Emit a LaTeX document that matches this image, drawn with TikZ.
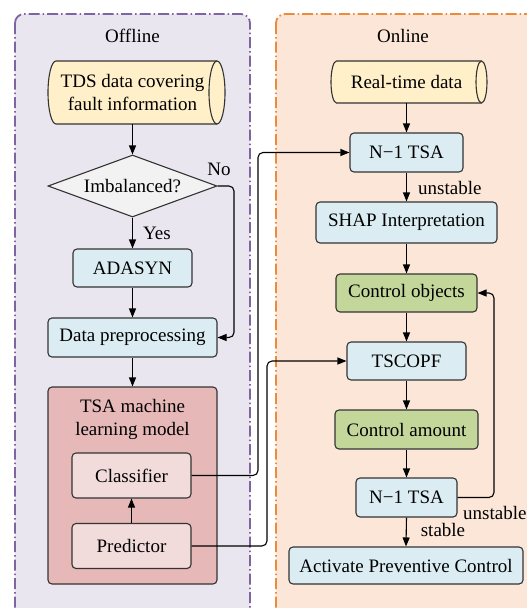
\documentclass[tikz,border=0pt]{standalone}
\usepackage{fontspec}
\setmainfont{Liberation Serif}
\usetikzlibrary{arrows.meta,shapes.geometric}

\definecolor{linec}{HTML}{333333}
\definecolor{offbg}{HTML}{EAE6F0}
\definecolor{offline}{HTML}{8064A2}
\definecolor{onbg}{HTML}{FCE6D8}
\definecolor{online}{HTML}{EE8A3C}
\definecolor{blueF}{HTML}{DBEDF3}
\definecolor{greenF}{HTML}{C4D79B}
\definecolor{roseF}{HTML}{E6B9B8}
\definecolor{paleF}{HTML}{F2DCDB}
\definecolor{yellowF}{HTML}{FFF0C9}
\definecolor{grayF}{HTML}{F2F2F2}

\newcommand\tx{\fontsize{19}{23}\selectfont}

\tikzset{
  panel/.style={line width=1.8pt, rounded corners=9pt,
    dash pattern=on 11pt off 3pt on 1.5pt off 3pt},
  box/.style={draw=linec, line width=1.1pt, rounded corners=4pt,
    font=\tx, inner sep=0pt, align=center},
  procbox/.style={box, fill=blueF},
  ctrlbox/.style={box, fill=greenF},
  subbox/.style={box, fill=paleF, minimum width=119pt, minimum height=45pt},
  drum/.style={draw=linec, line width=1.1pt, fill=yellowF},
  txt/.style={font=\tx, inner sep=0pt, align=center},
  arr/.style={draw=black, line width=1.1pt, rounded corners=5pt,
    -{Triangle[length=9pt,width=7pt]}},
  wire/.style={draw=black, line width=1.1pt, rounded corners=5pt},
}

\begin{document}
\begin{tikzpicture}[x=1pt,y=-1pt]
\useasboundingbox (0,0) rectangle (527,608);
\clip (0,0) rectangle (527,608);

% ---- the two stages ----
\draw[panel, draw=offline, fill=offbg] (15,14) rectangle (250,625);
\draw[panel, draw=online, fill=onbg] (276,14) rectangle (545,625);
\node[txt] (offt) at (132.5,36) {Offline};
\node[txt] (ont) at (403,36) {Online};

% ---- offline chain ----
% data store drawn as a lying drum
\draw[drum] (56,61) arc[start angle=90,end angle=270,x radius=8pt,y radius=31.5pt]
  -- (217,124) arc[start angle=-90,end angle=90,x radius=8pt,y radius=31.5pt] -- cycle;
\draw[linec, line width=1.1pt] (217,61) arc[start angle=90,end angle=270,x radius=8pt,y radius=31.5pt];
\node[txt, minimum height=63pt] (tds) at (132.5,92.5) {TDS data covering\\fault information};

\node[diamond, draw=linec, line width=1.1pt, fill=grayF, font=\tx, inner sep=0pt,
  minimum width=169pt, minimum height=62pt, aspect=2.7] (imb) at (132.5,186) {Imbalanced?};

\node[procbox, minimum width=119pt, minimum height=38pt] (ada) at (132.5,268) {ADASYN};
\node[procbox, minimum width=169pt, minimum height=39pt] (dp) at (132.5,337.5) {Data preprocessing};

\node[box, fill=roseF, minimum width=169pt, minimum height=197pt] (tsa) at (132.5,485.5) {};
\node[txt] (tsat) at (132.5,419) {TSA machine\\learning model};
\node[subbox] (cls) at (131.5,475.5) {Classifier};
\node[subbox] (pred) at (131.5,546) {Predictor};

% ---- online chain ----
\draw[drum] (336.5,61) arc[start angle=90,end angle=270,x radius=5.5pt,y radius=21pt]
  -- (481.5,103) arc[start angle=-90,end angle=90,x radius=5.5pt,y radius=21pt] -- cycle;
\draw[linec, line width=1.1pt] (481.5,61) arc[start angle=90,end angle=270,x radius=5.5pt,y radius=21pt];
\node[txt, minimum height=42pt] (rt) at (406.5,82) {Real-time data};

\node[procbox, minimum width=113pt, minimum height=39pt] (n1a) at (406.5,152.5) {N−1 TSA};
\node[procbox, minimum width=181pt, minimum height=41pt] (shap) at (406.5,222.5) {SHAP Interpretation};
\node[ctrlbox, minimum width=141pt, minimum height=38pt] (co) at (406.5,293) {Control objects};
\node[procbox, minimum width=119pt, minimum height=38pt] (opf) at (406.5,361) {TSCOPF};
\node[ctrlbox, minimum width=143pt, minimum height=39pt] (ca) at (406.5,429.5) {Control amount};
\node[procbox, minimum width=101pt, minimum height=39pt] (n1b) at (406.5,497.5) {N−1 TSA};
\node[procbox, minimum width=234pt, minimum height=37pt] (act) at (406,565.5) {Activate Preventive Control};

% ---- connectors ----
\draw[arr] (tds.south) -- (imb.north);
\draw[arr] (imb.south) -- (ada.north);
\node[txt] (yes) at (157,233) {Yes};
\draw[arr] (ada.south) -- (dp.north);
\draw[arr] (imb.east) -| (234,300) |- (dp.east);
\node[txt] (no) at (219,169) {No};
\draw[arr] (dp.south) -- (tsa.north);
\draw[arr] (pred.north) -- (cls.south);

\coordinate (clsbend) at (258,475.5);
\coordinate (predbend) at (267,546);
\draw[arr] (cls.east) -- (clsbend) |- (n1a.west);
\draw[arr] (pred.east) -- (predbend) |- (opf.west);

\draw[arr] (rt.south) -- (n1a.north);
\draw[arr] (n1a.south) -- (shap.north);
\node[txt, anchor=west] (uns1) at (418,188) {unstable};
\draw[arr] (shap.south) -- (co.north);
\draw[arr] (co.south) -- (opf.north);
\draw[arr] (opf.south) -- (ca.north);
\draw[arr] (ca.south) -- (n1b.north);
\coordinate (loopc) at (494,497.5);
\draw[arr] (n1b.east) -- (loopc) |- (co.east);
\node[txt, anchor=west] (uns2) at (463,513) {unstable};
\draw[arr] (n1b.south) -- (act.north);
\node[txt] (stab) at (443,530) {stable};
\end{tikzpicture}
\end{document}
